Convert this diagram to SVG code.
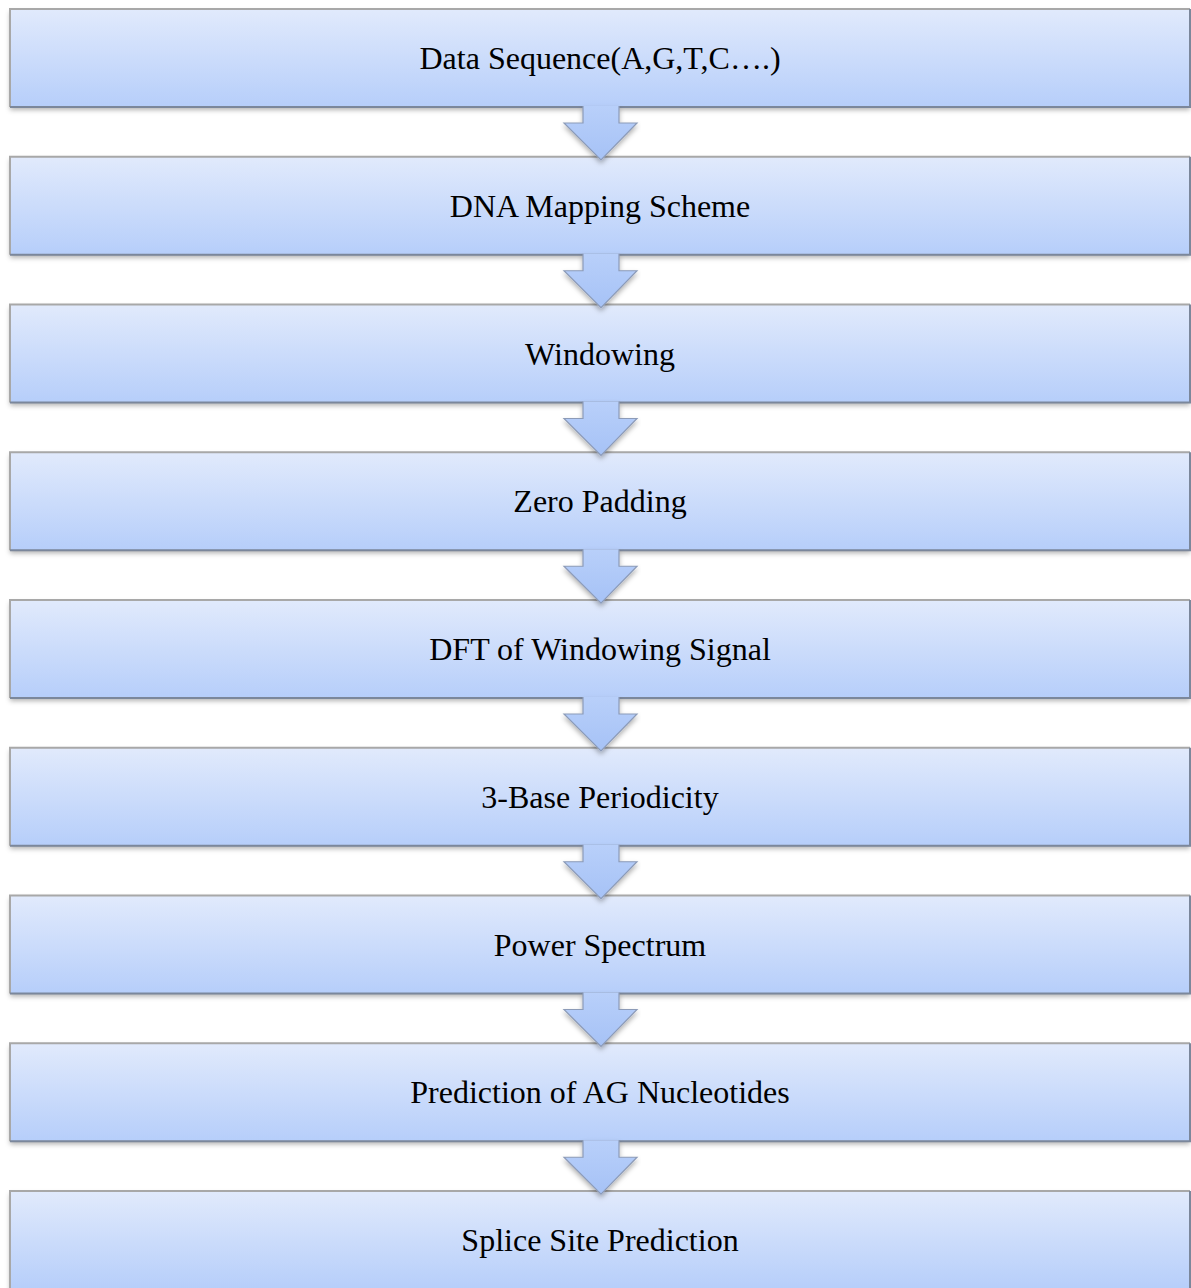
<svg xmlns="http://www.w3.org/2000/svg" width="1191" height="1288" viewBox="0 0 1191 1288">
<defs>
<linearGradient id="boxg" x1="0" y1="0" x2="0" y2="1">
<stop offset="0" stop-color="#e1eafc"/>
<stop offset="1" stop-color="#b6cefa"/>
</linearGradient>
<linearGradient id="arrg" gradientUnits="userSpaceOnUse" x1="0" y1="104" x2="0" y2="160">
<stop offset="0" stop-color="#b9d0fa"/>
<stop offset="1" stop-color="#a6c2f6"/>
</linearGradient>
<filter id="sh" x="-5%" y="-20%" width="110%" height="150%">
<feDropShadow dx="0" dy="3" stdDeviation="2.5" flood-color="#000" flood-opacity="0.3"/>
</filter>
<style>
.box{fill:url(#boxg);filter:url(#sh)}
.bl{stroke:#a8a8a8;stroke-width:2;fill:none}
.bd{stroke:#7b879b;stroke-width:2;fill:none}
.arr{fill:url(#arrg);stroke:#8c9bb8;stroke-width:1.2;stroke-linejoin:miter;filter:url(#sh)}
.t{font-family:"Liberation Serif","Times New Roman",serif;font-size:32px;fill:#000;text-anchor:middle}
</style>
<g id="node">
<rect class="box" x="10" y="0" width="1180" height="98"/>
<path class="bl" d="M10,98 L10,0 L1190,0"/>
<path class="bd" d="M10,98 L1190,98 L1190,0"/>
</g>
<path id="arrow" class="arr" d="M583,106 L583,123 L564,123 L601,160 L637,123 L619,123 L619,106"/>
</defs>
<g id="n1"><use href="#node" y="9"/><text class="t" x="600" y="69">Data Sequence(A,G,T,C….)</text></g>
<g id="n2"><use href="#node" y="156.75"/><text class="t" x="600" y="216.75">DNA Mapping Scheme</text></g>
<g id="n3"><use href="#node" y="304.5"/><text class="t" x="600" y="364.5">Windowing</text></g>
<g id="n4"><use href="#node" y="452.25"/><text class="t" x="600" y="512.25">Zero Padding</text></g>
<g id="n5"><use href="#node" y="600"/><text class="t" x="600" y="660">DFT of Windowing Signal</text></g>
<g id="n6"><use href="#node" y="747.75"/><text class="t" x="600" y="807.75">3-Base Periodicity</text></g>
<g id="n7"><use href="#node" y="895.5"/><text class="t" x="600" y="955.5">Power Spectrum</text></g>
<g id="n8"><use href="#node" y="1043.25"/><text class="t" x="600" y="1103.25">Prediction of AG Nucleotides</text></g>
<g id="n9"><use href="#node" y="1191"/><text class="t" x="600" y="1251">Splice Site Prediction</text></g>
<g id="connectors">
<use href="#arrow" y="0"/>
<use href="#arrow" y="147.75"/>
<use href="#arrow" y="295.5"/>
<use href="#arrow" y="443.25"/>
<use href="#arrow" y="591"/>
<use href="#arrow" y="738.75"/>
<use href="#arrow" y="886.5"/>
<use href="#arrow" y="1034.25"/>
</g>
</svg>
